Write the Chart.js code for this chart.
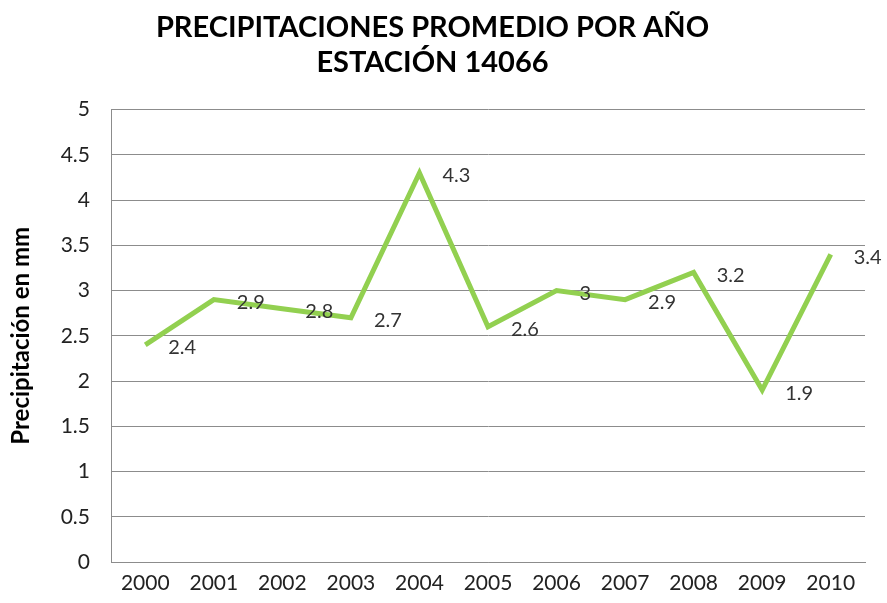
<!DOCTYPE html>
<html>
<head>
<meta charset="utf-8">
<script src="https://cdn.jsdelivr.net/npm/chart.js@4"></script>
<style>
  html, body { margin: 0; padding: 0; background: #fff; }
  #wrap { width: 887px; height: 603px; }
</style>
</head>
<body>
<div id="wrap"><canvas id="myChart"></canvas></div>
<script>
const years = ['2000', '2001', '2002', '2003', '2004', '2005', '2006', '2007', '2008', '2009', '2010'];
const precip = [2.4, 2.9, 2.8, 2.7, 4.3, 2.6, 3, 2.9, 3.2, 1.9, 3.4];
const yTicks = [0, 0.5, 1, 1.5, 2, 2.5, 3, 3.5, 4, 4.5, 5];

// value labels to the right of each point, Excel style
const valueLabels = {
    id: 'valueLabels',
    afterDatasetsDraw(chart) {
        const ctx = chart.ctx;
        const meta = chart.getDatasetMeta(0);
        ctx.save();
        ctx.font = '20px Lato';
        ctx.fillStyle = '#333';
        ctx.textAlign = 'left';
        ctx.textBaseline = 'middle';
        meta.data.forEach((pt, i) => {
            ctx.fillText(String(precip[i]), pt.x + 23, pt.y + 3);
        });
        ctx.restore();
    }
};

const config = {
    type: 'line',
    data: {
        labels: years,
        datasets: [{
            data: precip,
            borderColor: '#92d050',
            borderWidth: 5,
            pointRadius: 0,
            tension: 0,
            fill: false
        }]
    },
    options: {
        responsive: true,
        maintainAspectRatio: false,
        animation: false,
        layout: { padding: { left: 0, right: 22, top: 0, bottom: 0 } },
        plugins: {
            legend: { display: false },
            tooltip: { enabled: false },
            title: {
                display: true,
                text: ['PRECIPITACIONES PROMEDIO POR AÑO', 'ESTACIÓN 14066'],
                color: '#000',
                font: { family: 'Lato', size: 29, weight: 'bold', lineHeight: 1.2 },
                padding: { top: 10, bottom: 30 }
            }
        },
        scales: {
            x: {
                offset: true,
                grid: { display: false, drawTicks: false },
                border: { display: true, color: '#8c8c8c', width: 1 },
                ticks: { color: '#222', font: { family: 'Lato', size: 21 }, padding: 9, maxRotation: 0 },
                afterFit(scale) { scale.height = 41; }
            },
            y: {
                min: 0,
                max: 5,
                afterBuildTicks(scale) { scale.ticks = yTicks.map(v => ({ value: v })); },
                grid: { color: '#8c8c8c', drawTicks: false },
                border: { display: true, color: '#8c8c8c', width: 1 },
                ticks: {
                    color: '#222',
                    font: { family: 'Lato', size: 21 },
                    padding: 21,
                    callback: (v) => String(v)
                },
                title: {
                    display: true,
                    text: 'Precipitación en mm',
                    color: '#000',
                    font: { family: 'Lato', size: 24, weight: 'bold' },
                    padding: { top: 7, bottom: 0 }
                },
                afterFit(scale) { scale.width = 111; }
            }
        }
    },
    plugins: [valueLabels]
};

var ctx = document.getElementById('myChart').getContext('2d');
var myChart = new Chart(ctx, config);
</script>
</body>
</html>
